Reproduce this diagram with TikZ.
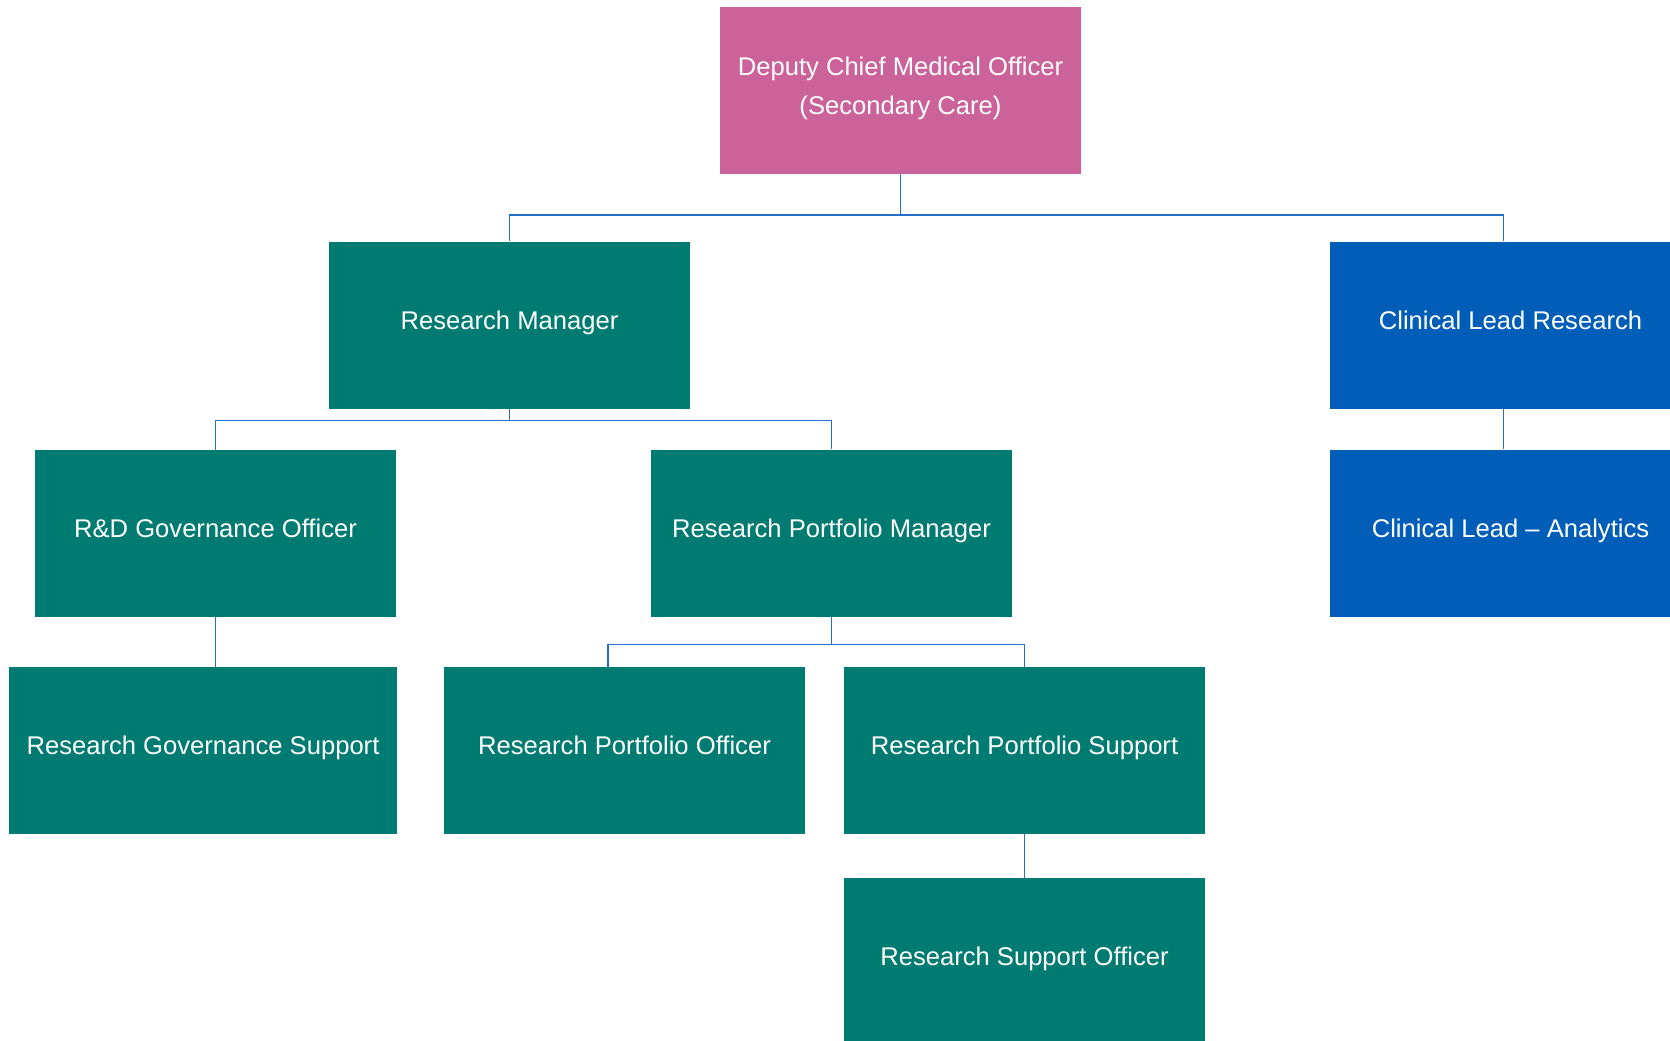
\documentclass[tikz,border=0pt]{standalone}
\usepackage{fontspec}
\setmainfont{Liberation Sans}
\usetikzlibrary{calc}
\definecolor{pinkbox}{RGB}{203,98,153}
\definecolor{tealbox}{RGB}{0,123,114}
\definecolor{bluebox}{RGB}{0,94,184}
\definecolor{linecol}{RGB}{38,110,196}
\tikzset{
  orgbox/.style={rectangle, inner sep=0pt, text=white, align=center,
    minimum width=180.5pt, minimum height=83.5pt,
    font=\fontsize{12.8}{19.5}\selectfont, text height=0.75em, text depth=0.32em},
  tealnode/.style={orgbox, fill=tealbox},
  bluenode/.style={orgbox, fill=bluebox},
  pinknode/.style={orgbox, fill=pinkbox, text height=27.6pt},
  conn/.style={draw=linecol, line width=0.75pt}
}
\begin{document}
\begin{tikzpicture}[x=0.5pt,y=-0.5pt]
\useasboundingbox (0,0) rectangle (1670,1040);
\clip (0,0) rectangle (1670,1040);
\node[pinknode] (top) at (900.5,90) {Deputy Chief Medical Officer\\(Secondary Care)};
\node[tealnode] (rm) at (509.5,325) {Research Manager};
\node[bluenode] (clr) at (1510.5,325) {Clinical Lead Research};
\node[tealnode] (rdg) at (215.5,533.5) {R\&D Governance Officer};
\node[tealnode] (rpm) at (831.5,533) {Research Portfolio Manager};
\node[bluenode] (cla) at (1510.5,533) {Clinical Lead -- Analytics};
\node[tealnode, minimum width=194pt] (rgs) at (203,750.5) {Research Governance Support};
\node[tealnode] (rpo) at (624.5,750.5) {Research Portfolio Officer};
\node[tealnode] (rps) at (1024.5,750.5) {Research Portfolio Support};
\node[tealnode] (rso) at (1024.5,961.5) {Research Support Officer};
\draw[conn] (top.south) -- ++(0,41.3) -| (rm.north);
\draw[conn] (top.south) -- ++(0,41.3) -| ($(clr.north)+(-7,0)$);
\draw[conn] ($(clr.south)+(-7,0)$) -- ($(cla.north)+(-7,0)$);
\draw[conn] (rm.south) -- ++(0,11.7) -| (rdg.north);
\draw[conn] (rm.south) -- ++(0,11.7) -| (rpm.north);
\draw[conn] (rdg.south) -- (rdg.south |- rgs.north);
\draw[conn] (rpm.south) -- ++(0,27.7) -| ($(rpo.north)+(-16.5,0)$);
\draw[conn] (rpm.south) -- ++(0,27.7) -| (rps.north);
\draw[conn] (rps.south) -- (rso.north);
\end{tikzpicture}
\end{document}
